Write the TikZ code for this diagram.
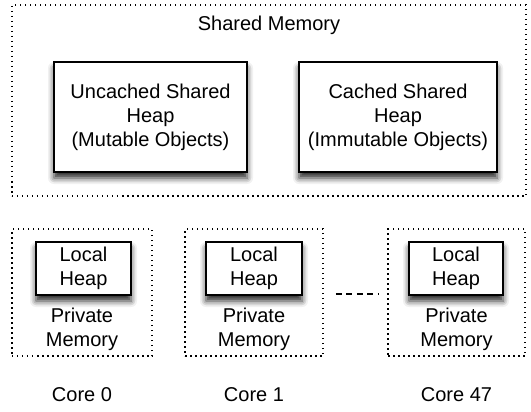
\documentclass[tikz,border=0pt]{standalone}
\usepackage{fontspec}
\setmainfont{Liberation Sans}
\usetikzlibrary{shadows.blur, positioning}
\tikzset{
  membox/.style={rectangle, draw=black, line width=1.5bp,
                 dash pattern=on 1.5bp off 3.5bp, inner sep=0pt},
  heapbox/.style={rectangle, draw=black, fill=white, line width=1.5bp,
                  align=center, inner sep=0pt,
                  blur shadow={shadow xshift=0bp, shadow yshift=-6bp,
                               shadow blur radius=6bp, shadow opacity=85}},
  txt/.style={align=center, inner sep=0pt},
  gap/.style={line width=2.5bp, dash pattern=on 6bp off 4.5bp},
}

\begin{document}
\begin{tikzpicture}[x=1bp, y=-1bp, font=\fontsize{20bp}{24bp}\selectfont]
  \useasboundingbox (0,0) rectangle (531,411);
  % shared part
  \node[membox, minimum width=514bp, minimum height=191bp] (shared) at (269,100.5) {};
  \node[txt] (sharedlbl) at (269,25) {Shared Memory};
  \node[heapbox, minimum width=193bp, minimum height=110bp] (uncached) at (150.5,117)
       {Uncached Shared\\Heap\\(Mutable Objects)};
  \node[heapbox, minimum width=198bp, minimum height=110bp] (cached) at (398,117)
       {Cached Shared\\Heap\\(Immutable Objects)};
  % cores
  \node[membox, minimum width=140bp, minimum height=127bp] (priv0) at (82,292.5) {};
  \node[membox, minimum width=138bp, minimum height=127bp] (priv1) at (254,292.5) {};
  \node[membox, minimum width=137bp, minimum height=127bp] (priv47) at (456.5,292.5) {};
  \node[heapbox, minimum width=95bp, minimum height=53bp] (local0) at (83.5,268.5) {Local\\Heap};
  \node[heapbox, minimum width=96bp, minimum height=53bp] (local1) at (254,268.5) {Local\\Heap};
  \node[heapbox, minimum width=94bp, minimum height=53bp] (local47) at (456,268.5) {Local\\Heap};
  \node[txt] (pm0) at (82,329.5) {Private\\Memory};
  \node[txt] (pm1) at (254,329.5) {Private\\Memory};
  \node[txt] (pm47) at (456.5,329.5) {Private\\Memory};
  \draw[gap] ([xshift=12bp, yshift=-1.5bp]priv1.east) -- ([xshift=-8bp, yshift=-1.5bp]priv47.west);
  \node[txt] (core0) at (82,395) {Core 0};
  \node[txt] (core1) at (254,395) {Core 1};
  \node[txt] (core47) at (456.5,395) {Core 47};
\end{tikzpicture}
\end{document}
